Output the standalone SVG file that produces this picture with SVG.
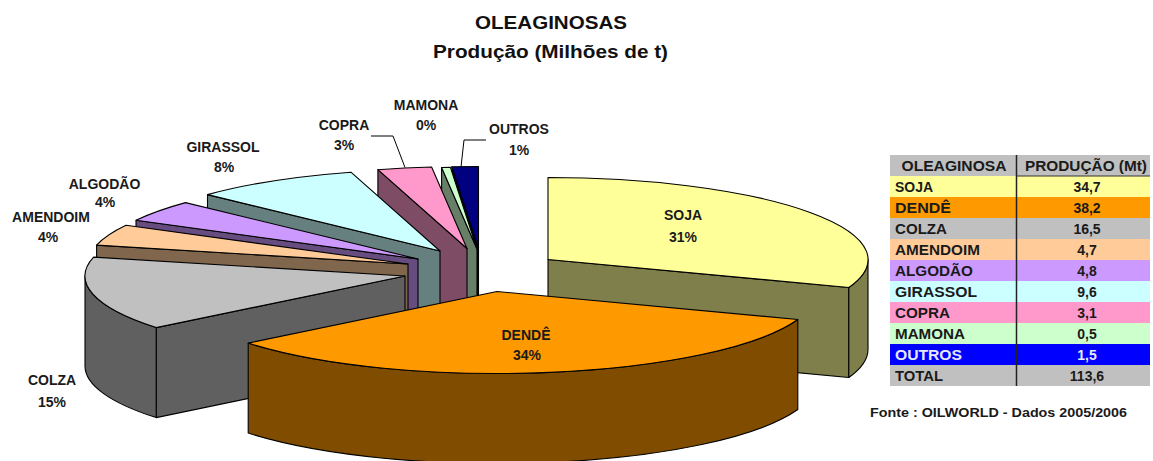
<svg xmlns="http://www.w3.org/2000/svg" width="1153" height="461" viewBox="0 0 1153 461">
<style>
.e{stroke:#000;stroke-width:1.1;stroke-linejoin:round}
.t{font-family:"Liberation Sans",Arial,sans-serif;font-weight:bold;fill:#1a1a1a}
.lbl{font-size:14px;text-anchor:middle}
.ttl{font-size:18px;text-anchor:middle;fill:#111}
.tb{font-size:14px}
.c{text-anchor:middle}
.ld{fill:none;stroke:#000;stroke-width:1}
</style>
<rect width="1153" height="461" fill="#fff"/>
<g id="title">
<text class="t ttl" x="551" y="28.5" textLength="152" lengthAdjust="spacingAndGlyphs">OLEAGINOSAS</text>
<text class="t ttl" x="550.5" y="58" textLength="235" lengthAdjust="spacingAndGlyphs">Produção (Milhões de t)</text>
</g>
<g id="soja">
<polygon class="e" fill="#7f7f4c" points="548,259.5 848.8,287.5 848.8,377.5 548,349.5"/>
<path class="e" fill="#7f7f4c" d="M868,259.5 A320,82 0 0 1 848.8,287.5 L848.8,377.5 A320,82 0 0 0 868,349.5 Z"/>
<path class="e" fill="#ffff99" d="M548,259.5 L548,177.5 A320,82 0 0 1 848.8,287.5 Z"/>
</g>
<g id="outros">
<polygon class="e" fill="#000040" points="478.5,248.5 451.9,166.8 451.9,256.8 478.5,338.5"/>
<path class="e" fill="#000080" d="M478.5,248.5 L451.9,166.8 A320,82 0 0 1 478.5,166.5 Z"/>
</g>
<g id="mamona">
<polygon class="e" fill="#667f66" points="477,249 441.6,167.5 441.6,257.5 477,339"/>
<path class="e" fill="#ccffcc" d="M477,249 L441.6,167.5 A320,82 0 0 1 450.4,167.3 Z"/>
</g>
<g id="copra">
<polygon class="e" fill="#7f4c66" points="467,248.5 377.9,169.7 377.9,259.7 467,338.5"/>
<path class="e" fill="#ff99cc" d="M467,248.5 L377.9,169.7 A320,82 0 0 1 431.6,167 Z"/>
</g>
<g id="girassol">
<polygon class="e" fill="#667f7f" points="440,251 207.5,194.6 207.5,284.6 440,341"/>
<path class="e" fill="#ccffff" d="M440,251 L207.5,194.6 A320,82 0 0 1 350.9,172.2 Z"/>
</g>
<g id="algodao">
<polygon class="e" fill="#664c7f" points="418,259 136,220.3 136,310.3 418,349"/>
<path class="e" fill="#cc99ff" d="M418,259 L136,220.3 A320,82 0 0 1 185.5,202.6 Z"/>
</g>
<g id="amendoim">
<polygon class="e" fill="#7f664c" points="408,264 96.6,245.1 96.6,335.1 408,354"/>
<path class="e" fill="#ffcc99" d="M408,264 L96.6,245.1 A320,82 0 0 1 126,225.3 Z"/>
</g>
<g id="colza">
<polygon class="e" fill="#606060" points="405,276 156.2,327.6 156.2,417.6 405,366"/>
<path class="e" fill="#606060" d="M156.2,327.6 A320,82 0 0 1 85,276 L85,366 A320,82 0 0 0 156.2,417.6 Z"/>
<path class="e" fill="#c0c0c0" d="M405,276 L156.2,327.6 A320,82 0 0 1 93.6,257.1 Z"/>
</g>
<g id="dende">
<path class="e" fill="#7f4c00" d="M797.8,319.5 A320,82 0 0 1 248.2,343.1 L248.2,433.1 A320,82 0 0 0 797.8,409.5 Z"/>
<path class="e" fill="#ff9900" d="M497,291.5 L797.8,319.5 A320,82 0 0 1 248.2,343.1 Z"/>
</g>
<g id="connectors">
<polyline class="ld" points="371,136 393,136 405,167.5"/>
<polyline class="ld" points="486,140 464,140 461,167"/>
</g>
<g id="labels">
<text class="t lbl" x="426" y="109.5">MAMONA</text>
<text class="t lbl" x="426" y="130">0%</text>
<text class="t lbl" x="344" y="130">COPRA</text>
<text class="t lbl" x="344" y="150">3%</text>
<text class="t lbl" x="519" y="133.5">OUTROS</text>
<text class="t lbl" x="519" y="155">1%</text>
<text class="t lbl" x="223" y="152">GIRASSOL</text>
<text class="t lbl" x="224" y="172">8%</text>
<text class="t lbl" x="104.5" y="188.5">ALGODÃO</text>
<text class="t lbl" x="105" y="207">4%</text>
<text class="t lbl" x="51" y="221.5">AMENDOIM</text>
<text class="t lbl" x="48" y="242">4%</text>
<text class="t lbl" x="52" y="385">COLZA</text>
<text class="t lbl" x="52" y="407">15%</text>
<text class="t lbl" x="683" y="220">SOJA</text>
<text class="t lbl" x="683" y="241.5">31%</text>
<text class="t lbl" x="526" y="340">DENDÊ</text>
<text class="t lbl" x="527" y="360">34%</text>
</g>
<g id="table">
<rect x="890" y="155" width="260" height="21" fill="#c0c0c0"/>
<rect x="890" y="176" width="260" height="21" fill="#ffff99"/>
<rect x="890" y="197" width="260" height="21" fill="#ff9900"/>
<rect x="890" y="218" width="260" height="21" fill="#c0c0c0"/>
<rect x="890" y="239" width="260" height="21" fill="#ffcc99"/>
<rect x="890" y="260" width="260" height="21" fill="#cc99ff"/>
<rect x="890" y="281" width="260" height="21" fill="#ccffff"/>
<rect x="890" y="302" width="260" height="21" fill="#ff99cc"/>
<rect x="890" y="323" width="260" height="21" fill="#ccffcc"/>
<rect x="890" y="344" width="260" height="21" fill="#0000ff"/>
<rect x="890" y="365" width="260" height="21" fill="#c0c0c0"/>
<line x1="1016.5" y1="155" x2="1016.5" y2="386" stroke="#222" stroke-width="1.5"/>
<line x1="1016.5" y1="176" x2="1150" y2="176" stroke="#333" stroke-width="1.2"/>
<text class="t tb c" x="954" y="171" textLength="105" lengthAdjust="spacingAndGlyphs">OLEAGINOSA</text>
<text class="t tb c" x="1086" y="171" textLength="122" lengthAdjust="spacingAndGlyphs">PRODUÇÃO (Mt)</text>
<text class="t tb" x="895" y="192" textLength="38" lengthAdjust="spacingAndGlyphs">SOJA</text>
<text class="t tb" x="895" y="213" textLength="56" lengthAdjust="spacingAndGlyphs">DENDÊ</text>
<text class="t tb" x="895" y="234" textLength="52" lengthAdjust="spacingAndGlyphs">COLZA</text>
<text class="t tb" x="895" y="255" textLength="85" lengthAdjust="spacingAndGlyphs">AMENDOIM</text>
<text class="t tb" x="895" y="276" textLength="78" lengthAdjust="spacingAndGlyphs">ALGODÃO</text>
<text class="t tb" x="895" y="297" textLength="82" lengthAdjust="spacingAndGlyphs">GIRASSOL</text>
<text class="t tb" x="895" y="318" textLength="55" lengthAdjust="spacingAndGlyphs">COPRA</text>
<text class="t tb" x="895" y="339" textLength="70" lengthAdjust="spacingAndGlyphs">MAMONA</text>
<text class="t tb" x="895" y="360" textLength="67" lengthAdjust="spacingAndGlyphs" fill="#e8e8ff" style="fill:#e8e8ff">OUTROS</text>
<text class="t tb" x="895" y="381" textLength="48" lengthAdjust="spacingAndGlyphs">TOTAL</text>
<text class="t tb c" x="1087" y="192">34,7</text>
<text class="t tb c" x="1087" y="213">38,2</text>
<text class="t tb c" x="1087" y="234">16,5</text>
<text class="t tb c" x="1087" y="255">4,7</text>
<text class="t tb c" x="1087" y="276">4,8</text>
<text class="t tb c" x="1087" y="297">9,6</text>
<text class="t tb c" x="1087" y="318">3,1</text>
<text class="t tb c" x="1087" y="339">0,5</text>
<text class="t tb c" x="1087" y="360" style="fill:#e8e8ff">1,5</text>
<text class="t tb c" x="1087" y="381">113,6</text>
</g>
<g id="source">
<text class="t" x="870" y="416.5" font-size="13" textLength="257" lengthAdjust="spacingAndGlyphs">Fonte : OILWORLD - Dados 2005/2006</text>
</g>
</svg>
